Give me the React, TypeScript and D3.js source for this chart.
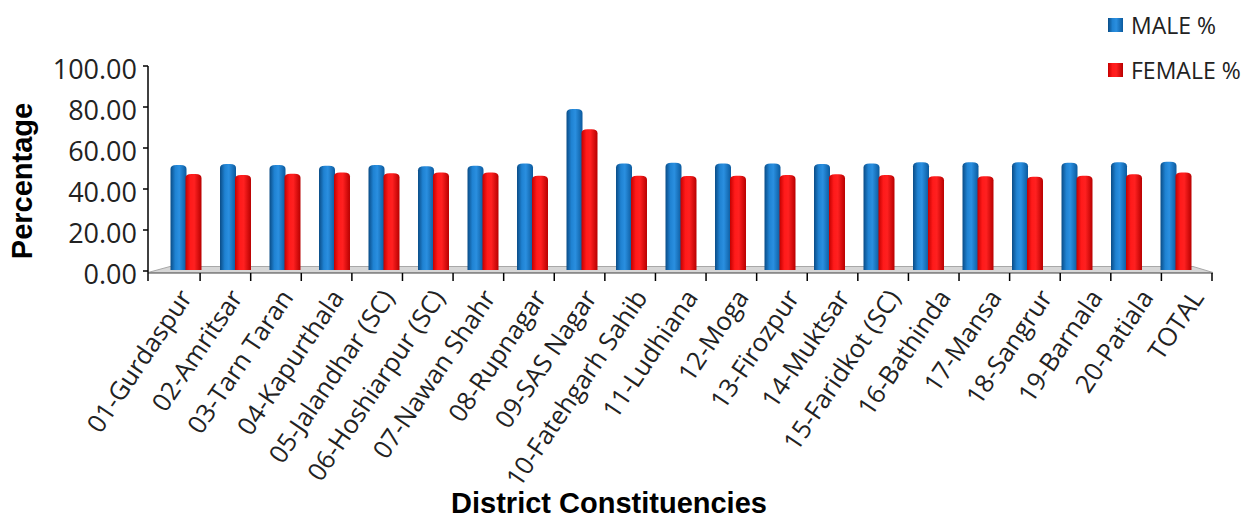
import React from "react";
import * as d3 from "d3";

const categories = [
  "01-Gurdaspur", "02-Amritsar", "03-Tarn Taran", "04-Kapurthala", "05-Jalandhar (SC)",
  "06-Hoshiarpur (SC)", "07-Nawan Shahr", "08-Rupnagar", "09-SAS Nagar", "10-Fatehgarh Sahib",
  "11-Ludhiana", "12-Moga", "13-Firozpur", "14-Muktsar", "15-Faridkot (SC)",
  "16-Bathinda", "17-Mansa", "18-Sangrur", "19-Barnala", "20-Patiala", "TOTAL",
];
const maleValues = [51.7, 52.2, 51.7, 51.4, 51.7, 51.1, 51.4, 52.5, 79.0, 52.5, 52.8, 52.5, 52.5, 52.2, 52.5, 53.0, 53.0, 53.0, 52.8, 53.0, 53.3];
const femaleValues = [47.3, 46.8, 47.5, 48.0, 47.7, 48.1, 48.0, 46.5, 69.1, 46.5, 46.3, 46.5, 46.8, 47.2, 46.8, 46.2, 46.2, 46.0, 46.5, 47.2, 48.0];
const seriesNames = ["MALE %", "FEMALE %"];
const yTicks = [0, 20, 40, 60, 80, 100];

const W = 1243, H = 519;
const FONT = "'Open Sans', 'DejaVu Sans', sans-serif";
const BOLD = "'Liberation Sans', Arial, sans-serif";

export default function App() {
  const y = d3.scaleLinear().domain([0, 100]).range([271, 66]);
  // axis (front) category scale
  const xAxis = d3.scaleBand<string>().domain(categories).range([149.5, 1212]);
  // bars sit on the back of the 3D floor
  const xBars = d3.scaleBand<string>().domain(categories).range([161.25, 1200.75]).paddingInner(0.374).paddingOuter(0.187);
  const xSub = d3.scaleBand<string>().domain(seriesNames).range([0, xBars.bandwidth()]);
  const series = [maleValues, femaleValues];
  const gradIds = ["gBlue", "gRed"];

  const barPath = (x0: number, w: number, top: number, bottom: number) => {
    const r = Math.min(6, w / 2);
    const ry = 4;
    return `M${x0},${bottom} L${x0},${top + ry} Q${x0},${top} ${x0 + r},${top} L${x0 + w - r},${top} Q${x0 + w},${top} ${x0 + w},${top + ry} L${x0 + w},${bottom} Z`;
  };

  const floorY0 = 266.5, floorY1 = 272.5;
  const axisX = 148;

  return (
    <svg width={W} height={H} style={{ position: "absolute", left: 0, top: 0, background: "#fff" }}>
      <defs>
        <linearGradient id="gBlue" x1="0" x2="1" y1="0" y2="0">
          <stop offset="0" stopColor="#0a4c86" />
          <stop offset="0.3" stopColor="#1f82d2" />
          <stop offset="0.55" stopColor="#2a8fe0" />
          <stop offset="1" stopColor="#0b5a9e" />
        </linearGradient>
        <linearGradient id="gRed" x1="0" x2="1" y1="0" y2="0">
          <stop offset="0" stopColor="#c40000" />
          <stop offset="0.3" stopColor="#ff1a1a" />
          <stop offset="0.55" stopColor="#ff2020" />
          <stop offset="1" stopColor="#b80000" />
        </linearGradient>
      </defs>

      {/* floor */}
      <polygon
        points={`${axisX},${floorY1} 170,${floorY0} 1193,${floorY0} 1213,${floorY1}`}
        fill="#d6d6d6" stroke="#a8a8a8" strokeWidth={1}
      />
      <line x1={axisX} x2={1213} y1={floorY1 + 0.5} y2={floorY1 + 0.5} stroke="#808080" strokeWidth={1.5} />

      {/* y axis */}
      <line x1={axisX} x2={axisX} y1={y(100)} y2={281} stroke="#000" strokeWidth={1.5} />
      {yTicks.map((t) => (
        <g key={t}>
          <line x1={axisX - 5} x2={axisX} y1={y(t)} y2={y(t)} stroke="#000" strokeWidth={1.5} />
          <text x={137} y={y(t) + 2} textAnchor="end" dominantBaseline="central" fontFamily={FONT} fontSize={27} fill="#222">
            {t.toFixed(2)}
          </text>
        </g>
      ))}

      {/* x ticks */}
      {categories.map((c) => (
        <line key={c} x1={(xAxis(c) as number) + xAxis.bandwidth()} x2={(xAxis(c) as number) + xAxis.bandwidth()} y1={273} y2={281} stroke="#000" strokeWidth={1.5} />
      ))}

      {/* bars */}
      {series.map((vals, si) =>
        categories.map((c, i) => {
          const x0 = (xBars(c) as number) + (xSub(seriesNames[si]) as number) + (si === 0 ? 0 : -0.5);
          const w = xSub.bandwidth() + 0.5;
          return (
            <path key={`${si}-${c}`} d={barPath(x0, w, y(vals[i]), y(0) - 1)} fill={`url(#${gradIds[si]})`} />
          );
        })
      )}

      {/* x labels */}
      {categories.map((c) => {
        const cx = (xAxis(c) as number) + xAxis.bandwidth() / 2 + 10;
        return (
          <text key={c} transform={`translate(${cx},${292}) rotate(-56)`} textAnchor="end" dominantBaseline="central" fontFamily={FONT} fontSize={25.5} fill="#222">
            {c}
          </text>
        );
      })}

      {/* axis titles */}
      <text transform={`translate(${32},${181}) rotate(-90)`} textAnchor="middle" fontFamily={BOLD} fontWeight="bold" fontSize={29} fill="#000">
        Percentage
      </text>
      <text x={609} y={513} textAnchor="middle" fontFamily={BOLD} fontWeight="bold" fontSize={29} fill="#000">
        District Constituencies
      </text>

      {/* legend */}
      {seriesNames.map((s, i) => (
        <g key={s} transform={`translate(1108,${18 + i * 45})`}>
          <rect x={0} y={0} width={15} height={14} fill={`url(#${gradIds[i]})`} />
          <text x={23} y={7} dominantBaseline="central" fontFamily={FONT} fontSize={23} fill="#222">{s}</text>
        </g>
      ))}
    </svg>
  );
}
